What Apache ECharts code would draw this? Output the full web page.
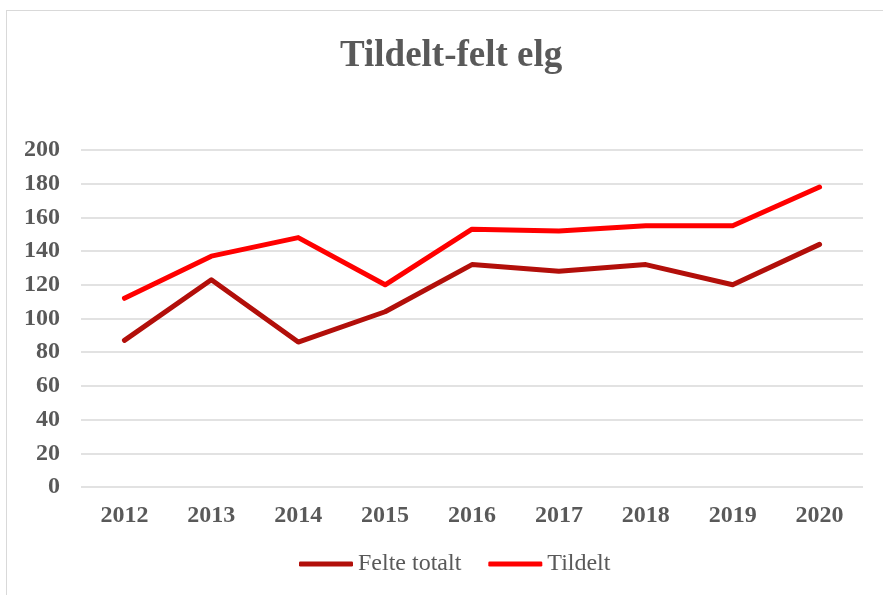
<!DOCTYPE html>
<html>
<head>
<meta charset="utf-8">
<script src="https://cdn.jsdelivr.net/npm/echarts@6/dist/echarts.min.js"></script>
<style>
  html, body { margin: 0; padding: 0; background: #fff; overflow: hidden; }
  #frame { position: absolute; left: 6px; top: 10px; width: 1000px; height: 700px; border: 1px solid #d9d9d9; box-sizing: border-box; }
  #chart { position: absolute; left: 0; top: 0; width: 883px; height: 595px; }
</style>
</head>
<body>
<div id="frame"></div>
<div id="chart"></div>
<script>
var years = ['2012', '2013', '2014', '2015', '2016', '2017', '2018', '2019', '2020'];
var felteTotalt = [87, 123, 86, 104, 132, 128, 132, 120, 144];
var tildelt = [112, 137, 148, 120, 153, 152, 155, 155, 178];

var grey = '#595959';
var rule = '#d9d9d9';
var serif = '"Liberation Serif", "Times New Roman", serif';

var chart = echarts.init(document.getElementById('chart'), null, { renderer: 'canvas' });
chart.setOption({
  animation: false,
  backgroundColor: 'transparent',
  title: {
    text: 'Tildelt-felt elg',
    left: 335,
    top: 33,
    textStyle: { color: grey, fontFamily: serif, fontWeight: 'bold', fontSize: 37 }
  },
  legend: {
    bottom: 14,
    left: 294,
    icon: 'roundRect',
    itemWidth: 54,
    itemHeight: 5,
    itemGap: 27,
    textStyle: { color: grey, fontFamily: serif, fontSize: 24 },
    data: ['Felte totalt', 'Tildelt']
  },
  grid: { left: 81, right: 20, top: 150, bottom: 108 },
  xAxis: {
    type: 'category',
    data: years,
    boundaryGap: true,
    axisLine: { show: false },
    axisTick: { show: false },
    axisLabel: { color: grey, fontFamily: serif, fontWeight: 'bold', fontSize: 24, margin: 17 }
  },
  yAxis: {
    type: 'value',
    min: 0,
    max: 200,
    interval: 20,
    axisLine: { show: false },
    axisTick: { show: false },
    axisLabel: { color: grey, fontFamily: serif, fontWeight: 'bold', fontSize: 24, margin: 21 },
    splitLine: { lineStyle: { color: rule, width: 1.5 } }
  },
  series: [
    {
      name: 'Felte totalt',
      type: 'line',
      data: felteTotalt,
      symbol: 'none',
      color: '#b20f0a',
      lineStyle: { width: 5, color: '#b20f0a', cap: 'round', join: 'round' }
    },
    {
      name: 'Tildelt',
      type: 'line',
      data: tildelt,
      symbol: 'none',
      color: '#ff0000',
      lineStyle: { width: 5, color: '#ff0000', cap: 'round', join: 'round' }
    }
  ]
});
</script>
</body>
</html>
